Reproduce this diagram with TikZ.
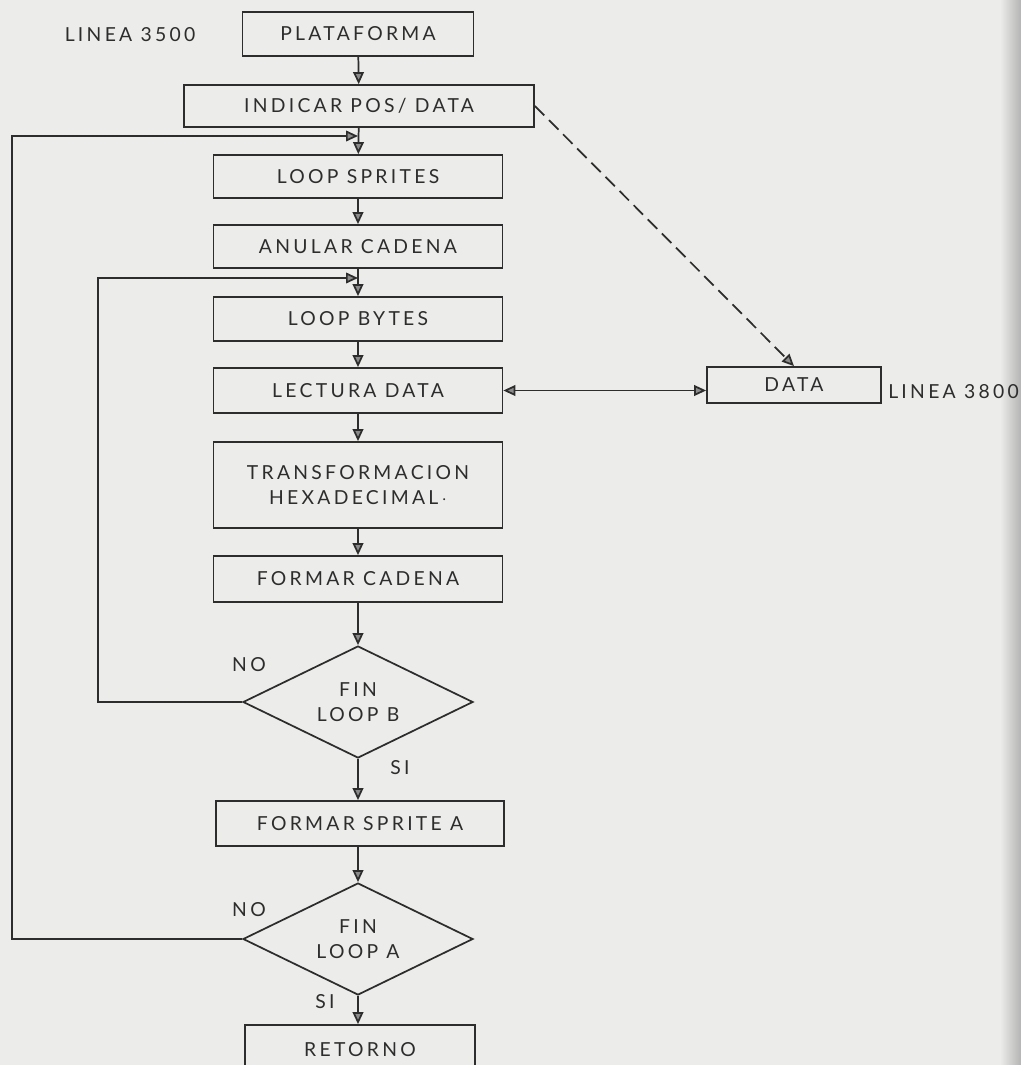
\documentclass[tikz,border=0pt]{standalone}
\usepackage{fontspec}
\setmainfont{Lato}[LetterSpace=17]
\usetikzlibrary{arrows.meta,shapes.geometric}
\definecolor{paper}{RGB}{236,236,234}
\definecolor{ink}{RGB}{45,45,45}
\definecolor{edge}{RGB}{180,180,180}
\begin{document}
\begin{tikzpicture}[x=0.75pt,y=-0.75pt,
  font=\fontsize{14.5}{18.75}\selectfont, text=ink,
  box/.style={draw=ink, line width=1.3pt, inner sep=0pt, align=center},
  dec/.style={draw=ink, line width=1.3pt, diamond, aspect=2, inner sep=0pt,
    minimum width=172.5pt, minimum height=84pt, align=center},
  flow/.style={draw=ink, line width=1.3pt, -{Triangle[length=9pt,width=8pt,fill=ink!55]}},
  both/.style={draw=ink, line width=1.3pt, {Triangle[length=9pt,width=8pt,fill=ink!55]}-{Triangle[length=9pt,width=8pt,fill=ink!55]}},
  lbl/.style={inner sep=0pt}]
\clip (0,0) rectangle (1021,1065);
\fill[paper] (0,0) rectangle (1021,1065);
% page edge shadow
\shade[left color=paper, right color=edge] (1000,0) rectangle (1021,1065);
% boxes
\node[box, minimum width=173.25pt, minimum height=33pt] (plat) at (358,34) {PLATAFORMA};
\node[box, minimum width=262.5pt, minimum height=31.5pt] (ind) at (359,106) {INDICAR POS/ DATA};
\node[box, minimum width=216.75pt, minimum height=32.25pt] (spr) at (358,176.5) {LOOP SPRITES};
\node[box, minimum width=216.75pt, minimum height=32.25pt] (anu) at (358,246.5) {ANULAR CADENA};
\node[box, minimum width=216.75pt, minimum height=33pt] (byt) at (358,319) {LOOP BYTES};
\node[box, minimum width=216.75pt, minimum height=33.75pt] (lec) at (358,390.5) {LECTURA DATA};
\node[box, minimum width=216.75pt, minimum height=64.5pt] (tra) at (358,485) {TRANSFORMACION\\HEXADECIMAL\,$\cdot$};
\node[box, minimum width=216.75pt, minimum height=34.5pt] (fca) at (358,579) {FORMAR CADENA};
\node[dec] (finb) at (358,702) {FIN\\LOOP B};
\node[box, minimum width=216pt, minimum height=33.75pt] (fsa) at (360,823.5) {FORMAR SPRITE A};
\node[dec] (fina) at (358,939) {FIN\\LOOP A};
\node[box, minimum width=172.5pt, minimum height=37.5pt] (ret) at (360,1050) {RETORNO};
\node[box, minimum width=130.5pt, minimum height=27pt] (data) at (794,385) {DATA};
% labels
\node[lbl] (l3500) at (130,35) {LINEA 3500};
\node[lbl, anchor=west] (l3800) at (888,392) {LINEA 3800};
\node[lbl] (nob) at (249,665) {NO};
\node[lbl] (sib) at (400,768) {SI};
\node[lbl] (noa) at (249,910) {NO};
\node[lbl] (sia) at (325,1002) {SI};
% junctions
\coordinate (ja) at (358,136);
\coordinate (jb) at (358,278);
\coordinate (la) at (12,0);
\coordinate (lb) at (98,0);
% main flow
\draw[flow] (plat) -- (ind);
\draw[flow] (ind) -- (spr);
\draw[flow] (spr) -- (anu);
\draw[flow] (anu) -- (byt);
\draw[flow] (byt) -- (lec);
\draw[flow] (lec) -- (tra);
\draw[flow] (tra) -- (fca);
\draw[flow] (fca) -- (finb);
\draw[flow] (finb) -- (finb |- fsa.north);
\draw[flow] (fsa.south -| fina) -- (fina);
\draw[flow] (fina) -- (fina |- ret.north);
% loops
\draw[flow] (finb.west) -- (finb.west -| lb) -- (lb |- jb) -- (jb);
\draw[flow] (fina.west) -- (fina.west -| la) -- (la |- ja) -- (ja);
% data links
\draw[both] (lec.east) -- (lec.east -| data.west);
\draw[flow, dash pattern=on 10pt off 5pt] (ind.east) -- (data.north);
\end{tikzpicture}
\end{document}
